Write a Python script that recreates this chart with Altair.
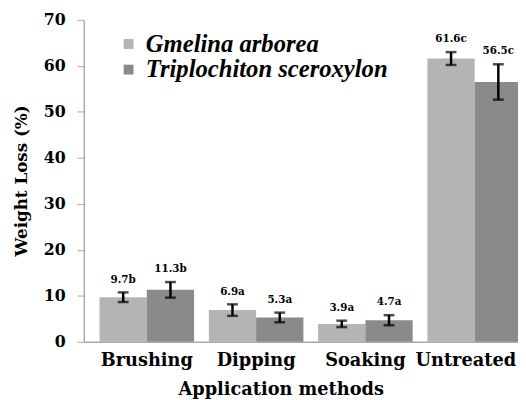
import altair as alt
import pandas as pd

methods = ["Brushing", "Dipping", "Soaking", "Untreated"]
species = ["Gmelina arborea", "Triplochiton sceroxylon"]
gmelina = [9.7, 6.9, 3.9, 61.6]
triplochiton = [11.3, 5.3, 4.7, 56.5]
gmelina_err = [1.05, 1.25, 0.7, 1.4]
triplochiton_err = [1.7, 1.05, 1.1, 3.85]
gmelina_letters = ["b", "a", "a", "c"]
triplochiton_letters = ["b", "a", "a", "c"]
y_ticks = [0, 10, 20, 30, 40, 50, 60, 70]

rows = []
for sp, vals, errs, lets in [
    (species[0], gmelina, gmelina_err, gmelina_letters),
    (species[1], triplochiton, triplochiton_err, triplochiton_letters),
]:
    for m, v, e, l in zip(methods, vals, errs, lets):
        rows.append({"method": m, "species": sp, "value": v,
                     "lo": v - e, "hi": v + e, "label": f"{v}{l}"})
df = pd.DataFrame(rows)

FONT = "DejaVu Serif"
colors = ["#b4b4b4", "#8a8a8a"]

x = alt.X("method:N", sort=methods,
          scale=alt.Scale(domain=methods, range=[0, 461], paddingInner=0.135, paddingOuter=0.144),
          axis=alt.Axis(title="Application methods", labelAngle=0, ticks=False,
                        labelPadding=10, labelFontSize=18, labelFontWeight="bold",
                        labelOffset={"condition": {"test": "datum.value == 'Untreated'", "value": -9}, "value": 0},
                        labelColor="black", titleFontSize=18, titleFontWeight="bold",
                        titleColor="black", titleX=200, titleY=40, titleAnchor="middle",
                        domainColor="#a8a8a8", domainWidth=1.5))
xo = alt.XOffset("species:N", sort=species, scale=alt.Scale(domain=species, paddingInner=0, paddingOuter=0))

base = alt.Chart(df)

bars = base.mark_bar().encode(
    x=x,
    xOffset=xo,
    y=alt.Y("value:Q", scale=alt.Scale(domain=[0, 70], nice=False),
            axis=alt.Axis(title="Weight Loss (%)", values=y_ticks, grid=False,
                          tickSize=7, tickColor="#a8a8a8", domainColor="#a8a8a8",
                          domainWidth=1.5, labelPadding=12, labelFontSize=16,
                          labelFontWeight="bold", labelColor="black",
                          titleFontSize=17, titleFontWeight="bold", titleColor="black",
                          titleX=-54, titleY=163)),
    color=alt.Color("species:N", sort=species,
                    scale=alt.Scale(domain=species, range=colors),
                    legend=alt.Legend(title=None, orient="none", legendX=33, legendY=12,
                                      symbolType="square", symbolSize=100,
                                      symbolStrokeWidth=0, labelFontSize=25,
                                      labelFont="Liberation Serif", labelFontWeight="bold",
                                      labelFontStyle="italic", labelColor="black",
                                      labelLimit=0, rowPadding=0, labelOffset=5, padding=0)),
)

rules = base.mark_rule(color="black", strokeWidth=2.5).encode(
    x=alt.X("method:N", sort=methods), xOffset=xo,
    y="lo:Q", y2="hi:Q")

caps_hi = base.mark_tick(color="black", orient="horizontal", size=11, thickness=2.5).encode(
    x=alt.X("method:N", sort=methods), xOffset=xo, y="hi:Q")
caps_lo = base.mark_tick(color="black", orient="horizontal", size=11, thickness=2.5).encode(
    x=alt.X("method:N", sort=methods), xOffset=xo, y="lo:Q")

labels = base.mark_text(font=FONT, fontSize=10.5, fontWeight="bold", color="black",
                        baseline="alphabetic", dy=-10).encode(
    x=alt.X("method:N", sort=methods), xOffset=xo, y="hi:Q", text="label:N")

chart = alt.layer(bars, rules, caps_hi, caps_lo, labels).properties(
    width=441, height=327,
    autosize=alt.AutoSizeParams(type="none"),
    padding={"left": 77, "top": 9, "right": 0, "bottom": 56},
).configure(font=FONT).configure_view(stroke=None)

chart.save("out.html", embed_options={"renderer": "svg", "actions": False})
